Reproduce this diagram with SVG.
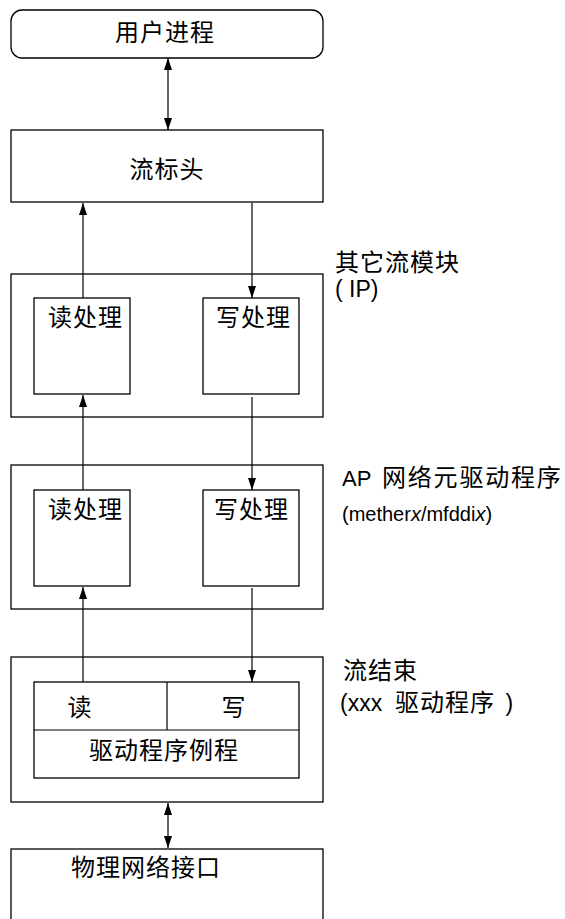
<svg xmlns="http://www.w3.org/2000/svg" width="565" height="919" viewBox="0 0 565 919">
<style>
.box{fill:#fff;stroke:#000;stroke-width:1.3}
.ln{fill:none;stroke:#000;stroke-width:1.2}
.t{font-family:"Liberation Sans","Noto Sans CJK SC",sans-serif;font-size:24px;fill:#000;letter-spacing:1px}
.l{font-family:"Liberation Sans","Noto Sans CJK SC",sans-serif;font-size:22px;fill:#000}
.c{text-anchor:middle}
</style>
<defs>
<marker id="ah" viewBox="0 0 12 8" refX="12" refY="4" markerWidth="12" markerHeight="8" markerUnits="userSpaceOnUse" orient="auto-start-reverse">
<path d="M0,0 L12,4 L0,8 z" fill="#000"/>
</marker>
</defs>
<rect width="565" height="919" fill="#fff"/>

<g id="user-process">
<rect class="box" x="11" y="10" width="312" height="48" rx="11"/>
<text class="t c" x="165" y="41">用户进程</text>
</g>

<g id="stream-head">
<rect class="box" x="11" y="130" width="312" height="72"/>
<text class="t c" x="167" y="178">流标头</text>
</g>

<g id="module-ip">
<rect class="box" x="11" y="274" width="312" height="143"/>
<rect class="box" x="34" y="298" width="96" height="96"/>
<rect class="box" x="203" y="298" width="96" height="96"/>
<text class="t" x="48" y="326">读处理</text>
<text class="t" x="216" y="326">写处理</text>
<text class="t" x="335" y="271">其它流模块</text>
<text class="l" x="335" y="297" style="font-size:23px">( IP)</text>
</g>

<g id="ap-driver">
<rect class="box" x="11" y="465" width="312" height="144"/>
<rect class="box" x="34" y="490" width="96" height="96"/>
<rect class="box" x="203" y="490" width="96" height="96"/>
<text class="t" x="48" y="518">读处理</text>
<text class="t" x="214" y="518">写处理</text>
<text class="l" x="342" y="486">AP <tspan x="382" style="font-size:24px;letter-spacing:1.8px">网络元驱动程序</tspan></text>
<text class="l" x="342" y="521" style="font-size:20px">(mether<tspan font-style="italic">x</tspan>/mfddi<tspan font-style="italic">x</tspan>)</text>
</g>

<g id="stream-end">
<rect class="box" x="11" y="657" width="312" height="145"/>
<rect class="box" x="34" y="682" width="265" height="96"/>
<line class="ln" x1="34" y1="730" x2="299" y2="730"/>
<line class="ln" x1="167" y1="682" x2="167" y2="730"/>
<text class="t c" x="80" y="716">读</text>
<text class="t c" x="234" y="716">写</text>
<text class="t c" x="164" y="759">驱动程序例程</text>
<text class="t" x="343" y="679">流结束</text>
<text class="l" x="340" y="711" style="font-size:23px">(xxx <tspan x="395" style="font-size:24px;letter-spacing:1px">驱动程序</tspan><tspan x="499"> )</tspan></text>
</g>

<g id="physical-interface">
<rect class="box" x="11" y="849" width="312" height="80"/>
<text class="t" x="71" y="876">物理网络接口</text>
</g>

<g id="connectors">
<line class="ln" x1="168" y1="58" x2="168" y2="130" marker-start="url(#ah)" marker-end="url(#ah)"/>
<line class="ln" x1="83" y1="298" x2="83" y2="203" marker-end="url(#ah)"/>
<line class="ln" x1="252" y1="203" x2="252" y2="298" marker-end="url(#ah)"/>
<line class="ln" x1="83" y1="490" x2="83" y2="395" marker-end="url(#ah)"/>
<line class="ln" x1="252" y1="397" x2="252" y2="490" marker-end="url(#ah)"/>
<line class="ln" x1="83" y1="682" x2="83" y2="587" marker-end="url(#ah)"/>
<line class="ln" x1="252" y1="588" x2="252" y2="682" marker-end="url(#ah)"/>
<line class="ln" x1="168" y1="803" x2="168" y2="848" marker-start="url(#ah)" marker-end="url(#ah)"/>
</g>
</svg>
